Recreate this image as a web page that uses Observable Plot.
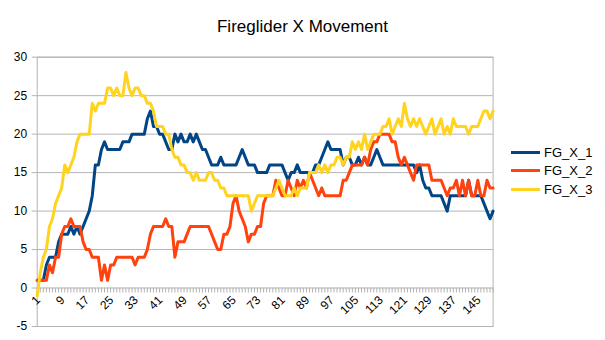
<!DOCTYPE html>
<html>
<head>
<meta charset="utf-8">
<script src="https://cdn.jsdelivr.net/npm/d3@7"></script>
<script src="https://cdn.jsdelivr.net/npm/@observablehq/plot@0.6"></script>
<style>
  body { margin: 0; background: #fff; font-family: "Liberation Sans", Arial, sans-serif; }
  #wrap { position: relative; width: 605px; height: 340px; overflow: hidden; background: #fff; }
  #chart { position: absolute; left: 0; top: 0; }
  #title { position: absolute; left: 0; top: 17px; width: 605px; text-align: center; font-size: 17px; line-height: 20px; color: #000; }
  #legend { position: absolute; left: 511px; top: 143px; }
  .row { display: flex; align-items: center; height: 18.5px; font-size: 13px; color: #000; }
  .sw { width: 29px; height: 3px; margin-right: 4px; }
</style>
</head>
<body>
<div id="wrap">
  <div id="chart"></div>
  <div id="title">Fireglider X Movement</div>
  <div id="legend"></div>
</div>
<script>
const seriesNames = ["FG_X_1", "FG_X_2", "FG_X_3"];
const seriesColors = ["#004586", "#ff420e", "#ffd320"];

const fg1 = [
  1,1,1,3,4,4,4,6,7,7,
  7,8,7,8,7,8,9,10,12,16,
  16,18,19,18,18,18,18,18,19,19,
  19,20,20,20,20,20,22,23,21,21,
  20,20,19,18,18,20,19,20,19,19,
  20,19,20,19,18,18,17,16,16,16,
  17,16,16,16,16,16,17,18,17,16,
  16,16,15,15,15,15,16,16,16,16,
  16,15,14,15,15,16,15,15,15,15,
  15,16,16,17,18,19,18,18,18,18,
  16,17,17,16,16,17,16,17,16,16,
  17,18,17,16,16,16,16,16,16,16,
  16,16,16,16,15,16,14,13,13,12,
  12,12,12,11,10,12,12,12,12,12,
  12,14,12,12,12,12,11,10,9,10
];
const fg2 = [
  1,1,1,1,3,2,4,4,7,8,
  8,9,8,8,8,6,5,5,4,4,
  4,1,3,1,3,3,4,4,4,4,
  4,4,3,4,4,4,5,7,8,8,
  8,8,9,8,8,4,6,6,6,7,
  8,8,8,8,8,8,8,7,6,5,
  5,7,7,8,11,12,10,9,8,6,
  7,7,8,8,11,12,12,12,14,13,
  12,12,14,13,12,14,13,14,13,15,
  14,13,12,13,12,12,12,12,12,12,
  14,14,15,16,16,16,16,17,16,18,
  19,19,20,20,20,20,19,19,17,16,
  17,16,15,14,16,16,16,16,16,14,
  14,14,14,13,12,13,13,14,12,14,
  12,14,12,12,14,12,12,14,13,13
];
const fg3 = [
  -1,2,4,5,8,9,11,12,13,16,
  15,16,17,19,20,20,20,20,24,23,
  24,24,24,26,26,25,26,25,25,28,
  26,25,26,26,25,25,24,24,23,21,
  21,21,20,20,18,17,17,16,16,15,
  15,14,15,14,14,14,15,15,14,14,
  13,13,12,12,12,12,12,12,12,12,
  10,11,12,12,12,12,12,12,13,14,
  13,12,12,12,13,12,13,13,13,15,
  15,15,16,15,16,15,16,16,17,17,
  16,17,17,19,18,19,18,20,18,19,
  20,20,20,21,21,22,20,21,22,21,
  24,22,21,22,21,22,21,20,21,22,
  20,21,22,20,21,20,22,21,21,21,
  21,20,21,21,21,22,23,23,22,23
];
const seriesValues = [fg1, fg2, fg3];

const xTickLabels = [1, 9, 17, 25, 33, 41, 49, 57, 65, 73, 81, 89, 97, 105, 113, 121, 129, 137, 145];
const yTicks = [-5, 0, 5, 10, 15, 20, 25, 30];

const categories = fg1.map((_, i) => i + 1);
const rows = [];
seriesNames.forEach((name, s) => {
  seriesValues[s].forEach((v, i) => rows.push({series: name, i: categories[i], v}));
});

const grid = "#b3b3b3";

const chart = Plot.plot({
  width: 605,
  height: 340,
  marginLeft: 36.7,
  marginRight: 112.4,
  marginTop: 56.7,
  marginBottom: 14,
  x: {domain: [categories[0], categories[categories.length - 1]], axis: null},
  y: {domain: [yTicks[0], yTicks[yTicks.length - 1]], axis: null},
  color: {domain: seriesNames, range: seriesColors},
  style: {fontFamily: "'Liberation Sans', Arial, sans-serif", fontSize: "12px", background: "transparent", color: "#000"},
  marks: [
    Plot.ruleY(yTicks, {y: d => d, stroke: grid, strokeWidth: 1}),
    Plot.frame({stroke: grid, strokeWidth: 1}),
    Plot.ruleY(yTicks, {y: d => d, x1: categories[0], x2: categories[0], insetLeft: -5, stroke: grid}),
    Plot.ruleX(categories, {x: d => d, y1: 0, y2: 0, insetBottom: -5, stroke: grid}),
    Plot.text(yTicks, {x: categories[0], y: d => d, text: d => String(d), textAnchor: "end", dx: -10, fontSize: 12, fill: "#000"}),
    Plot.text(xTickLabels, {x: d => d, y: 0, text: d => String(d), rotate: -45, textAnchor: "end", dx: 1, dy: 10, fontSize: 12, fill: "#000"}),
    Plot.lineY(rows, {x: "i", y: "v", z: "series", stroke: "series", strokeWidth: 3, strokeLinejoin: "round", curve: "linear"})
  ]
});
document.getElementById("chart").appendChild(chart);

const legend = document.getElementById("legend");
seriesNames.forEach((name, s) => {
  const row = document.createElement("div");
  row.className = "row";
  const sw = document.createElement("div");
  sw.className = "sw";
  sw.style.background = seriesColors[s];
  const t = document.createElement("span");
  t.textContent = name;
  row.appendChild(sw);
  row.appendChild(t);
  legend.appendChild(row);
});
</script>
</body>
</html>
